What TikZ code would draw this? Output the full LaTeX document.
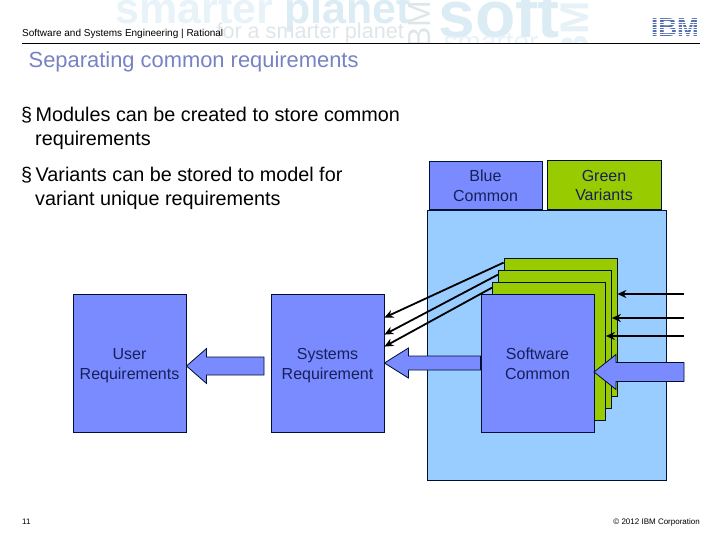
\documentclass[tikz,border=0pt]{standalone}
\usepackage{fontspec}
\setmainfont{Liberation Sans}
\usetikzlibrary{calc,arrows.meta}
\definecolor{boxblue}{RGB}{122,139,255}
\definecolor{paleblue}{RGB}{153,204,255}
\definecolor{boxgreen}{RGB}{153,204,0}
\definecolor{edgenavy}{RGB}{0,16,50}
\definecolor{textnavy}{RGB}{22,32,90}
\definecolor{titleblue}{RGB}{118,130,196}
\definecolor{ghost}{RGB}{219,236,245}
\definecolor{ghostgrey}{RGB}{222,230,234}
\definecolor{ibmblue}{RGB}{84,112,178}
\tikzset{
  reqbox/.style={draw=edgenavy, line width=0.8pt, fill=boxblue, text=textnavy, align=center,
                 font=\fontsize{16}{20}\selectfont, inner sep=0pt, minimum width=113pt, minimum height=138pt},
  tabbox/.style={reqbox, minimum height=48pt},
  stackbox/.style={draw=edgenavy, line width=0.8pt, fill=boxgreen, inner sep=0pt, minimum width=113pt, minimum height=138pt},
  feedline/.style={-{Stealth[length=9pt,width=8pt]}, draw=black, line width=1.8pt},
  bigarrow/.style={draw=edgenavy, fill=boxblue, line width=0.8pt},
  bodytext/.style={anchor=north west, align=left, inner sep=0pt, font=\fontsize{19.8}{24}\selectfont},
  ghosttext/.style={text=ghost, anchor=base west},
  smalltext/.style={font=\fontsize{10}{12}\selectfont},
}
\newcommand{\toppad}[1]{\rule{0pt}{#1}}
\newcommand{\bigleft}[5]{\draw[bigarrow] (#1) -- ($(#1)+(#3,-#4)$) -- ($(#1)+(#3,-#5)$) -- ($(#1 -| #2)+(0,-#5)$)
  -- ($(#1 -| #2)+(0,#5)$) -- ($(#1)+(#3,#5)$) -- ($(#1)+(#3,#4)$) -- cycle;}
\begin{document}
\begin{tikzpicture}[x=1pt,y=-1pt]
  \useasboundingbox (0,0) rectangle (720,540);

  % watermark
  \begin{scope}
    \clip (0,0) rectangle (720,43);
    \node[ghosttext,text=ghost!65,font=\bfseries\fontsize{43}{43}\selectfont] (wmsmarter) at (112,24) {smarter};
    \node[ghosttext,font=\bfseries\fontsize{43}{43}\selectfont] (wmplanet) at (281,24) {planet};
    \node[ghosttext,text=ghostgrey,font=\fontsize{21.6}{22}\selectfont] (wmsmall) at (213,39) {for a smarter planet};
    \node[ghosttext,font=\bfseries\fontsize{66}{66}\selectfont] (wmsoft) at (435,38) {soft};
    \node[ghosttext,text=ghost!65,font=\fontsize{28}{28}\selectfont] (wmlower) at (440,52) {smarter};
    \node[ghosttext,anchor=base east,rotate=90,text=ghostgrey,font=\fontsize{32}{32}\selectfont] (wmibm) at (430,-3) {IBM};
    \node[ghosttext,anchor=base east,rotate=90,text=ghost!70,font=\bfseries\fontsize{40}{40}\selectfont] (wmibmb) at (588,-2) {IBM};
  \end{scope}

  % header
  \node[smalltext,anchor=west,inner sep=0pt] (header) at (22,33.5) {Software and Systems Engineering | Rational};
  \node[font=\bfseries\fontsize{26}{26}\selectfont,text=ibmblue,inner sep=0pt] (logo) at (675,27.5) {IBM};
  \foreach \y in {19.5,22,24.5,27,29.5,32,34.5}
    \draw[white,line width=0.9pt] (650,\y) -- (700,\y);
  \draw[black,line width=0.9pt] (22,43) -- (700,43);
  \node[anchor=west,inner sep=0pt,text=titleblue,font=\fontsize{21.9}{24}\selectfont] (title) at (28.5,61.5) {Separating common requirements};

  % text
  \node[bodytext] (modules) at (21,107) {§\hspace{3.5pt}Modules can be created to store common\\\hspace{14pt}requirements};
  \node[bodytext] (variants) at (21,167) {§\hspace{3.5pt}Variants can be stored to model for\\\hspace{14pt}variant unique requirements};

  % boxes
  \node[draw=edgenavy,line width=0.8pt,fill=paleblue,inner sep=0pt,minimum width=239pt,minimum height=270pt] (tray) at (546.5,345) {};
  \node[tabbox] (bluetab) at (485.5,185) {\toppad{20pt}Blue\\Common\strut};
  \node[tabbox,fill=boxgreen,minimum height=49pt,minimum width=114pt] (greentab) at (604,184.5) {\toppad{19pt}Green\\Variants\strut};
  \node[stackbox] (var1) at (560.5,327) {};
  \node[stackbox] (var2) at (555,339) {};
  \node[stackbox] (var3) at (549,351) {};
  \node[reqbox] (soft) at (537.5,363) {\toppad{18pt}Software\\Common\strut};
  \node[reqbox] (sys) at (327.5,363) {\toppad{18pt}Systems\\Requirement\strut};
  \node[reqbox] (user) at (129.5,363) {\toppad{18pt}User\\Requirements\strut};

  % connectors
  \coordinate (in1) at (684,294);
  \coordinate (in2) at (684,318);
  \coordinate (in3) at (684,336);
  \coordinate (in4) at (684,372);
  \draw[feedline] (in1) -- (in1 -| var1.east);
  \draw[feedline] (in2) -- (in2 -| var2.east);
  \draw[feedline] (in3) -- (in3 -| var3.east);
  \draw[feedline] ($(var1.north west)+(0,5)$) -- ($(sys.north east)+(0,24)$);
  \draw[feedline] ($(var2.north west)+(0,5)$) -- ($(sys.north east)+(0,41)$);
  \draw[feedline] ($(var3.north west)+(0,6)$) -- ($(sys.north east)+(0,53)$);

  \coordinate (tipuser) at (186.5,366);
  \coordinate (tailuser) at (264,366);
  \coordinate (tipsoft) at (594,372);
  \bigleft{tipuser}{tailuser}{20}{17.5}{9}
  \bigleft{sys.east}{soft.west}{24}{15}{7}
  \bigleft{tipsoft}{in4}{22}{17.5}{9.5}

  % footer
  \node[font=\fontsize{8}{10}\selectfont,anchor=west,inner sep=0pt] (page) at (22,522) {11};
  \node[font=\fontsize{8}{10}\selectfont,anchor=east,inner sep=0pt] (copy) at (700,522) {© 2012 IBM Corporation};
\end{tikzpicture}
\end{document}
